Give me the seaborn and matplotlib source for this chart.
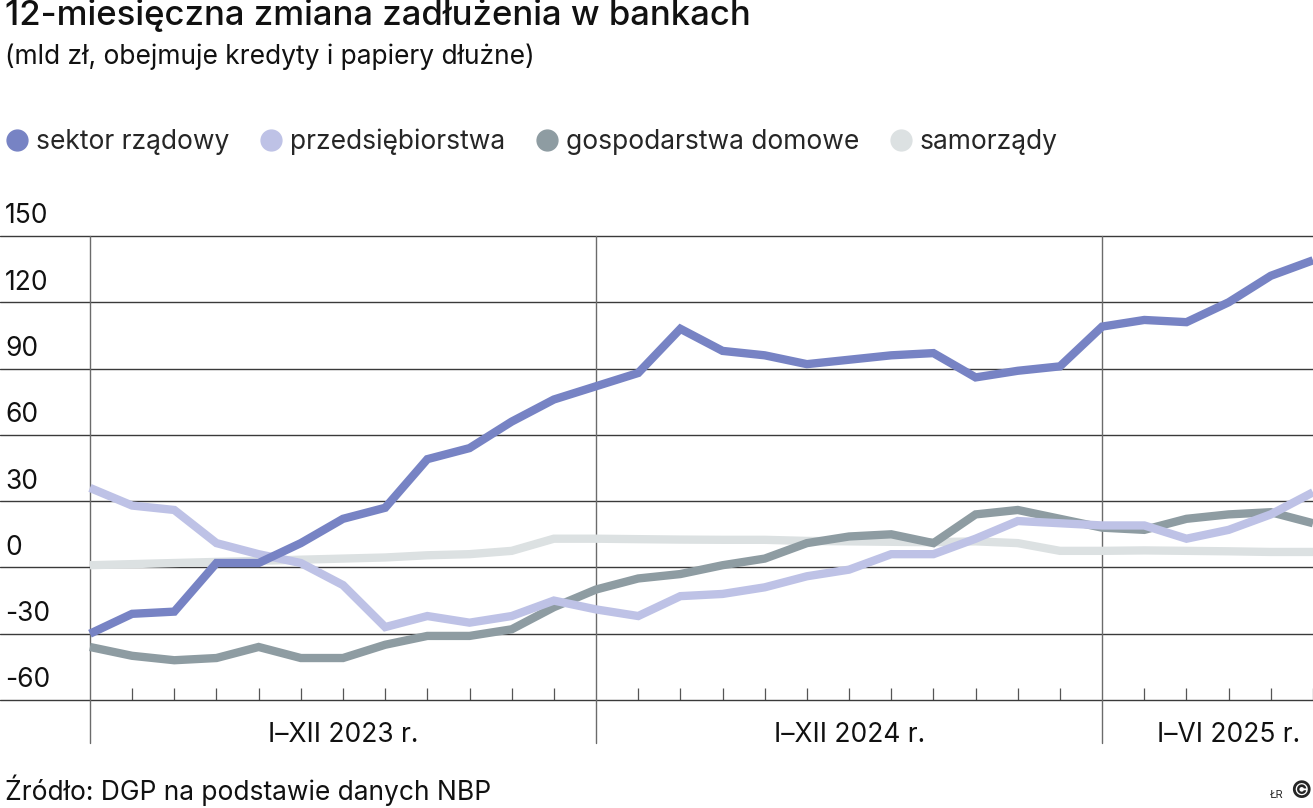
import matplotlib
matplotlib.use("Agg")
import matplotlib.pyplot as plt
from matplotlib.lines import Line2D
import seaborn as sns
import pandas as pd

sns.set_style("white")
plt.rcParams['font.family'] = ['Inter', 'DejaVu Sans']

# monthly data, I 2023 - VI 2025 (mld zł)
months = pd.period_range("2023-01", "2025-06", freq="M").strftime("%Y-%m").tolist()

sektor_rzadowy = [-30, -21, -20, 2, 2, 11, 22, 27, 49, 54, 66, 76,
                  82, 88, 108, 98, 96, 92, 94, 96, 97, 86, 89, 91,
                  109, 112, 111, 120, 132, 139]
przedsiebiorstwa = [36, 28, 26, 11, 6, 2, -8, -27, -22, -25, -22, -15,
                    -19, -22, -13, -12, -9, -4, -1, 6, 6, 13, 21, 20,
                    19, 19, 13, 17, 24, 34]
gospodarstwa = [-36, -40, -42, -41, -36, -41, -41, -35, -31, -31, -28, -18,
                -10, -5, -3, 1, 4, 11, 14, 15, 11, 24, 26, 22,
                18, 17, 22, 24, 25, 20]
samorzady = [1, 1.5, 2, 2.5, 3, 3.5, 4, 4.5, 5.5, 6, 7.5, 13,
             13, 12.8, 12.6, 12.5, 12.5, 12, 11.8, 11.6, 11.4, 11.8, 11, 7.5,
             7.5, 7.7, 7.5, 7.3, 7, 7]

labels = ["sektor rządowy", "przedsiębiorstwa", "gospodarstwa domowe", "samorządy"]
colors = ["#7783C4", "#BEC2E6", "#8E9CA2", "#DCE1E2"]
year_labels = ["I–XII 2023 r.", "I–XII 2024 r.", "I–VI 2025 r."]
year_starts = [0, 12, 24]
year_mids = [6, 18, 27]
yticks = [-60, -30, 0, 30, 60, 90, 120, 150]

df = pd.DataFrame({
    "idx": range(len(months)),
    labels[0]: sektor_rzadowy,
    labels[1]: przedsiebiorstwa,
    labels[2]: gospodarstwa,
    labels[3]: samorzady,
})

fig = plt.figure(figsize=(13.13, 8.08), dpi=100)
ax = fig.add_axes([0, 1 - 700 / 808, 1, 464 / 808])

for y in yticks:
    ax.axhline(y, color="#3a3a3a", lw=1.0, zorder=1, clip_on=False)

for x in year_starts:
    ax.plot([x, x], [-0.093, 1], transform=ax.get_xaxis_transform(),
            color="#6b6b6b", lw=1.0, clip_on=False, zorder=1)

# draw back to front
for name, col in reversed(list(zip(labels, colors))):
    sns.lineplot(data=df, x="idx", y=name, ax=ax, color=col, lw=6,
                 solid_joinstyle="miter", solid_capstyle="butt", zorder=3)

ax.set_xlim(-90 / 42.2, 29)
ax.set_ylim(-60, 150)
ax.set_xlabel("")
ax.set_ylabel("")
sns.despine(ax=ax, left=True, right=True, top=True, bottom=True)

month_ticks = [i for i in range(len(months)) if i not in year_starts]
ax.set_xticks(month_ticks)
ax.set_xticklabels([])
ax.tick_params(axis="x", bottom=True, direction="in", length=8.5, width=0.9,
               color="#555555")
ax.set_yticks([])

for y in yticks:
    ax.text(0.004, y + 3.0, str(y), transform=ax.get_yaxis_transform(),
            ha="left", va="bottom", fontsize=19, color="#111111")

for x, t in zip(year_mids, year_labels):
    ax.text(x, -0.075, t, transform=ax.get_xaxis_transform(),
            ha="center", va="center", fontsize=19, color="#111111")

fig.text(0.004, 1 - 15 / 808, "12-miesięczna zmiana zadłużenia w bankach",
         fontsize=25, ha="left", va="center", color="#111111", fontweight="medium")
fig.text(0.004, 1 - 57 / 808, "(mld zł, obejmuje kredyty i papiery dłużne)",
         fontsize=19, ha="left", va="center", color="#111111")

handles = [Line2D([], [], marker="o", ls="", markersize=15, color=c) for c in colors]
fig.legend(handles, labels, loc="center left", bbox_to_anchor=(-0.017, 1 - 142 / 808),
           ncol=4, frameon=False, fontsize=19, handletextpad=0.1,
           columnspacing=1.0, handlelength=1.2)

fig.text(0.004, 1 - 790 / 808, "Źródło: DGP na podstawie danych NBP",
         fontsize=19, ha="left", va="center", color="#111111")
fig.text(1270 / 1313, 1 - 795 / 808, "ŁR", fontsize=8, ha="left", va="center")
fig.text(1290 / 1313, 1 - 792 / 808, "©", fontsize=17, ha="left", va="center",
         fontweight="bold")

fig.savefig("out.png", dpi=100)
